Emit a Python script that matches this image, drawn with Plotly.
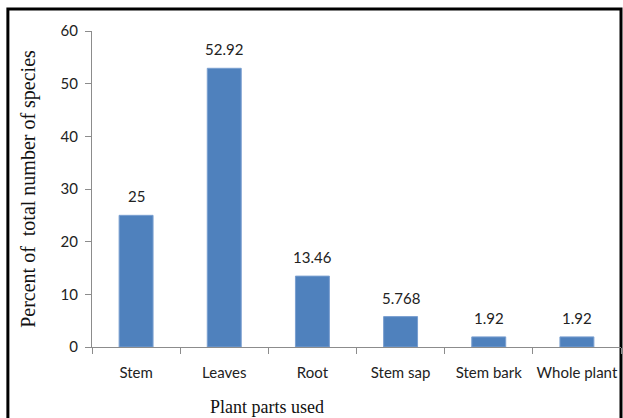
import plotly.graph_objects as go

categories = ["Stem", "Leaves", "Root", "Stem sap", "Stem bark", "Whole plant"]
values = [25, 52.92, 13.46, 5.768, 1.92, 1.92]
labels = ["25", "52.92", "13.46", "5.768", "1.92", "1.92"]
y_ticks = [0, 10, 20, 30, 40, 50, 60]

sans = "Lato, Open Sans, sans-serif"
serif = "Liberation Serif, Times New Roman, serif"

fig = go.Figure()
fig.add_trace(go.Bar(
    x=categories, y=values,
    marker=dict(color="#4F81BD", line=dict(color="#7A9FD0", width=1)),
    width=0.385,
))

annotations = [
    dict(x=c, y=v, text=t, showarrow=False, yanchor="middle", yshift=19,
         font=dict(family=sans, size=15, color="#222"))
    for c, v, t in zip(categories, values, labels)
]
annotations.append(dict(
    xref="paper", yref="paper", x=0.331, y=-0.19, text="Plant parts used",
    showarrow=False, xanchor="center", yanchor="middle",
    font=dict(family=serif, size=18, color="#111"),
))

fig.update_layout(
    width=623, height=418,
    margin=dict(l=92, r=2, t=31, b=71),
    paper_bgcolor="white", plot_bgcolor="white",
    showlegend=False,
    annotations=annotations,
    xaxis=dict(
        showline=True, linecolor="#8c8c8c", linewidth=1,
        ticks="outside", ticklen=6, tickcolor="#8c8c8c",
        tickson="boundaries", ticklabelstandoff=12, tickangle=0,
        tickfont=dict(family=sans, size=15, color="#222"),
        showgrid=False, automargin=False,
    ),
    yaxis=dict(
        range=[0, 60], tickvals=y_ticks,
        showline=True, linecolor="#8c8c8c", linewidth=1,
        ticks="outside", ticklen=6, tickcolor="#8c8c8c",
        ticklabelstandoff=4,
        tickfont=dict(family=sans, size=15, color="#222"),
        title=dict(text="Percent of&nbsp; total number of species", standoff=19,
                   font=dict(family=serif, size=20, color="#111")),
        showgrid=False, zeroline=False, automargin=False,
    ),
    shapes=[dict(type="rect", xref="paper", yref="paper",
                 x0=-0.159, x1=1.0, y0=-0.4, y1=1.07,
                 line=dict(color="black", width=3), layer="below")],
)

fig.write_html("out.html")
